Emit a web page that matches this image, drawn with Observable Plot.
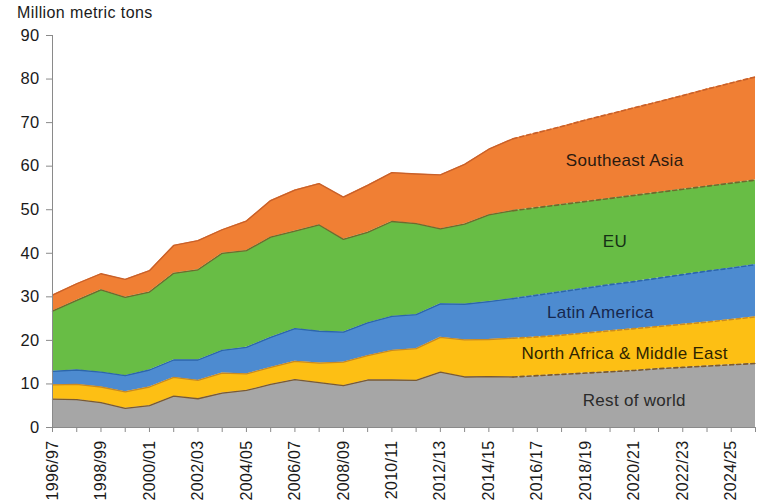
<!DOCTYPE html>
<html><head><meta charset="utf-8">
<script src="https://cdn.jsdelivr.net/npm/d3@7"></script>
<script src="https://cdn.jsdelivr.net/npm/@observablehq/plot@0.6"></script>
<style>
body{margin:0;background:#fff;font-family:"Liberation Sans",Arial,sans-serif;}
#wrap{position:relative;width:760px;height:503px;}
#title{position:absolute;left:17px;top:4px;font-size:16px;letter-spacing:0.4px;color:#1a1a1a;z-index:2;}
</style></head><body>
<div id="wrap"><div id="title">Million metric tons</div></div>
<script>
const years = ["1996/97","1997/98","1998/99","1999/00","2000/01","2001/02","2002/03","2003/04","2004/05","2005/06",
  "2006/07","2007/08","2008/09","2009/10","2010/11","2011/12","2012/13","2013/14","2014/15","2015/16",
  "2016/17","2017/18","2018/19","2019/20","2020/21","2021/22","2022/23","2023/24","2024/25","2025/26"];
const seriesNames = ["Rest of world","North Africa & Middle East","Latin America","EU","Southeast Asia"];
const restOfWorld = [6.5,6.4,5.7,4.4,5.0,7.2,6.6,7.9,8.5,9.9,11.0,10.3,9.6,10.9,10.9,10.8,12.7,11.6,11.7,11.6,
  11.9,12.2,12.5,12.8,13.1,13.5,13.8,14.1,14.4,14.7];
const northAfricaMiddleEast = [3.3,3.5,3.6,3.8,4.3,4.3,4.2,4.6,3.8,3.9,4.2,4.5,5.4,5.6,6.8,7.3,8.0,8.5,8.5,8.9,
  8.9,9.0,9.2,9.4,9.6,9.7,9.9,10.1,10.4,10.7];
const latinAmerica = [3.1,3.3,3.4,3.7,3.9,4.0,4.7,5.2,6.1,6.9,7.5,7.3,6.9,7.5,7.8,7.8,7.7,8.2,8.7,9.1,
  9.6,10.0,10.3,10.6,10.8,11.1,11.4,11.7,11.8,12.0];
const eu = [13.8,16.0,18.9,18.0,17.9,19.9,20.7,22.3,22.2,23.0,22.4,24.4,21.3,20.8,21.8,20.9,17.2,18.4,19.9,20.2,
  20.1,20.0,19.9,19.8,19.8,19.7,19.6,19.5,19.5,19.4];
const southeastAsia = [3.7,3.8,3.7,4.1,4.9,6.4,6.7,5.4,6.8,8.4,9.4,9.5,9.7,10.8,11.2,11.4,12.4,13.7,15.1,16.5,
  17.2,17.9,18.7,19.4,20.1,20.8,21.5,22.3,23.0,23.7];
const lastActualIndex = 19;
const yTicks = [0,10,20,30,40,50,60,70,80,90];
const labelTexts = ["Southeast Asia","EU","Latin America","North Africa & Middle East","Rest of world"];
const labelX = [23.6,23.2,22.6,23.6,24.0];
const labelY = [61.3,42.6,26.5,17.0,6.2];

const fills = ["#a6a6a6","#fdbf14","#4d8bd0","#68bd45","#f07f34"];
const lineColors = ["#7a5a32","#c98a22","#2c66aa","#6f6a2e","#c8602a"];
const textColors = ["#2a1a10","#163016","#17284e","#2e2400","#2a2a2a"];

const seriesValues = [restOfWorld, northAfricaMiddleEast, latinAmerica, eu, southeastAsia];
const rows = [];
years.forEach((yr, i) => {
  let base = 0;
  seriesNames.forEach((s, k) => {
    const v = seriesValues[k][i];
    rows.push({i, year: yr, series: s, k, y1: base, y2: base + v});
    base += v;
  });
});
const labels = labelTexts.map((t, j) => ({text: t, x: labelX[j], y: labelY[j], c: textColors[j]}));

const marks = [
  Plot.areaY(rows, {x: "i", y1: "y1", y2: "y2", z: "series", fill: "series"})
];
seriesNames.forEach((s, k) => {
  const r = rows.filter(d => d.k === k);
  marks.push(Plot.lineY(r.filter(d => d.i <= lastActualIndex), {x: "i", y: "y2", stroke: lineColors[k], strokeWidth: 1.3}));
  marks.push(Plot.lineY(r.filter(d => d.i >= lastActualIndex), {x: "i", y: "y2", stroke: lineColors[k], strokeWidth: 1.6, strokeDasharray: "4,3"}));
});
labels.forEach(l => {
  marks.push(Plot.text([l], {x: "x", y: "y", text: "text", fontSize: 17, fill: l.c, letterSpacing: 0.2}));
});
marks.push(
  Plot.axisY({ticks: yTicks, tickSize: 6, tickPadding: 7, label: null, stroke: "#8a8a8a", fill: "#1a1a1a", fontSize: 16.5}),
  Plot.axisX({ticks: d3.range(0, years.length), tickFormat: i => (i % 2 ? "" : years[i]), tickRotate: -90,
    tickSize: 5, tickPadding: 8, label: null, stroke: "#8a8a8a", fill: "#1a1a1a", fontSize: 16}),
  Plot.ruleX([0], {y1: 0, y2: 90, stroke: "#8a8a8a"}),
  Plot.ruleY([0], {stroke: "#8a8a8a"})
);

const chart = Plot.plot({
  width: 760, height: 503,
  marginLeft: 52, marginRight: 5, marginTop: 35, marginBottom: 76,
  style: {fontFamily: "'Liberation Sans', Arial, sans-serif", fontSize: "16px", color: "#1a1a1a", background: "#fff", letterSpacing: "0.3px"},
  x: {type: "linear", domain: [0, years.length - 1]},
  y: {domain: [0, 90]},
  color: {domain: seriesNames, range: fills},
  marks
});
chart.style.position = "absolute";
chart.style.left = "0";
chart.style.top = "0";
document.getElementById("wrap").appendChild(chart);
</script>
</body></html>
